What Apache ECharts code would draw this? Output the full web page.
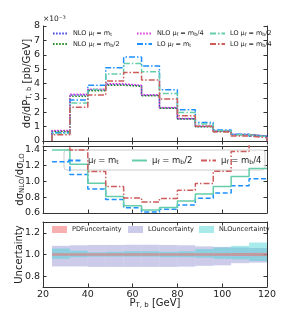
<!DOCTYPE html>
<html><head><meta charset="utf-8">
<script src="https://cdn.jsdelivr.net/npm/echarts@6/dist/echarts.min.js"></script>
<style>html,body{margin:0;padding:0;background:#fff}#c{width:282px;height:329px}</style>
</head><body><div id="c"></div>
<script>
// ---- data ----
const binEdges = [24, 32, 40, 48, 56, 64, 72, 80, 88, 96, 104, 112, 120];
const xTicks = [20, 40, 60, 80, 100, 120];
// differential cross sections, units of 1e-3 pb/GeV
const nloMt  = [0.70, 3.20, 3.55, 3.93, 3.84, 3.18, 2.30, 1.55, 1.01, 0.68, 0.45, 0.33];
const nloMt2 = [0.66, 3.12, 3.50, 3.88, 3.80, 3.15, 2.27, 1.53, 1.00, 0.67, 0.44, 0.32];
const nloMt4 = [0.73, 3.26, 3.60, 3.98, 3.88, 3.22, 2.33, 1.57, 1.03, 0.70, 0.46, 0.34];
const loMt   = [0.58, 2.85, 3.88, 5.10, 5.84, 5.22, 3.56, 2.17, 1.29, 0.77, 0.47, 0.33];
const loMt2  = [0.52, 2.65, 3.58, 4.66, 5.40, 4.82, 3.31, 1.99, 1.19, 0.72, 0.43, 0.30];
const loMt4  = [0.43, 2.34, 3.20, 4.17, 4.76, 4.25, 2.93, 1.76, 1.03, 0.63, 0.35, 0.23];
// ratios NLO/LO
const ratioMt  = [1.25, 1.09, 0.905, 0.77, 0.667, 0.613, 0.647, 0.70, 0.786, 0.855, 0.945, 1.035];
const ratioMt2 = [1.40, 1.22, 0.977, 0.81, 0.693, 0.638, 0.670, 0.752, 0.840, 0.937, 1.062, 1.165];
const ratioMt4 = [1.50, 1.40, 1.125, 0.935, 0.790, 0.740, 0.785, 0.890, 0.975, 1.130, 1.380, 1.550];
// uncertainty bands
const pdfLo = [0.988, 0.988, 0.988, 0.988, 0.988, 0.988, 0.988, 0.988, 0.988, 0.987, 0.986, 0.985];
const pdfHi = [1.012, 1.012, 1.012, 1.012, 1.012, 1.012, 1.012, 1.012, 1.012, 1.013, 1.014, 1.015];
const loBandLo = [0.890, 0.890, 0.885, 0.885, 0.885, 0.885, 0.885, 0.888, 0.895, 0.900, 0.920, 0.925];
const loBandHi = [1.080, 1.085, 1.088, 1.088, 1.090, 1.090, 1.088, 1.085, 1.075, 1.070, 1.065, 1.060];
const nloBandLo = [0.960, 0.975, 0.980, 0.980, 0.980, 0.980, 0.975, 0.975, 0.970, 0.960, 0.955, 0.940];
const nloBandHi = [1.055, 1.035, 1.020, 1.025, 1.030, 1.030, 1.025, 1.030, 1.050, 1.065, 1.080, 1.110];

// ---- helpers ----
const FONT = 'DejaVu Sans';
function histPts(v) {
  const p = [[binEdges[0], 0]];
  v.forEach((y, i) => p.push([binEdges[i], y]));
  p.push([binEdges[binEdges.length - 1], v[v.length - 1]]);
  p.push([binEdges[binEdges.length - 1], 0]);
  return p;
}
function stepPts(v) {
  const p = v.map((y, i) => [binEdges[i], y]);
  p.push([binEdges[binEdges.length - 1], v[v.length - 1]]);
  return p;
}
const DOT = [1.5, 1.6], DASHDOT = [6, 2, 1.5, 2], DASH = [5, 2.5];
function lineS(name, data, color, type, gi) {
  return { type: 'line', name, data, step: 'end', xAxisIndex: gi * 2, yAxisIndex: gi * 2,
    symbol: 'none', showSymbol: false, animation: false,
    lineStyle: { color, width: 1.5, type }, itemStyle: { color } };
}
function band(name, lo, hi, color) {
  return { type: 'custom', name, xAxisIndex: 4, yAxisIndex: 4, animation: false,
    itemStyle: { color },
    data: lo.map((l, i) => [binEdges[i], binEdges[i + 1], l, hi[i]]),
    encode: { x: [0, 1], y: [2, 3] },
    renderItem: (params, api) => {
      const a = api.coord([api.value(0), api.value(3)]);
      const b = api.coord([api.value(1), api.value(2)]);
      return { type: 'rect', shape: { x: a[0], y: a[1], width: b[0] - a[0], height: b[1] - a[1] },
        style: { fill: color } };
    } };
}
const grids = [
  { left: 43, right: 15, top: 26, height: 115 },
  { left: 43, right: 15, top: 146, height: 67 },
  { left: 43, right: 15, top: 222, height: 65 }
];
const axisLine = { show: true, lineStyle: { color: '#333', width: 1 } };
const tick = { show: true, inside: true, length: 3.5, lineStyle: { color: '#333' } };
const lblStyle = { fontFamily: FONT, fontSize: 9.5, color: '#222', margin: 3 };
const xAxes = [], yAxes = [];
const yDefs = [
  { min: 0, max: 8, interval: 1, fmt: v => String(v) },
  { min: 0.6, max: 1.45, interval: 0.2, fmt: v => (Math.abs(v - 1.45) < 1e-6 ? '' : v.toFixed(1)) },
  { min: 0.7, max: 1.3, splitNumber: 3, fmt: v => ((Math.abs(v - 0.7) < 1e-6 || Math.abs(v - 1.3) < 1e-6) ? '' : v.toFixed(1)) }
];
const rich = {
  a: { fontFamily: FONT, fontSize: 10, lineHeight: 12, color: '#222' },
  s: { fontFamily: FONT, fontSize: 7, lineHeight: 7, verticalAlign: 'bottom', color: '#222' }
};
const yNames = [
  { name: '{a|dσ/dP}{s|T, b}{a| [pb/GeV]}', gap: 10 },
  { name: '{a|dσ}{s|NLO}{a|/dσ}{s|LO}', gap: 17 },
  { name: '{a|Uncertainty}', gap: 18 }
];
for (let g = 0; g < 3; g++) {
  xAxes.push({ type: 'value', gridIndex: g, min: xTicks[0], max: xTicks[xTicks.length - 1], interval: 20,
    axisLine, axisTick: tick, splitLine: { show: false },
    axisLabel: g === 2 ? Object.assign({ show: true }, lblStyle) : { show: false },
    name: g === 2 ? '{a|P}{s|T, b}{a| [GeV]}' : '', nameLocation: 'middle', nameGap: 10,
    nameMoveOverlap: false, nameTextStyle: { rich, verticalAlign: 'top' } });
  xAxes.push({ type: 'value', gridIndex: g, position: 'top', min: 20, max: 120, interval: 20,
    axisLine, axisTick: tick, splitLine: { show: false }, axisLabel: { show: false } });
  const d = yDefs[g];
  const base = { type: 'value', gridIndex: g, min: d.min, max: d.max, axisLine, axisTick: tick,
    splitLine: { show: false } };
  if (d.interval) base.interval = d.interval; else base.splitNumber = d.splitNumber;
  yAxes.push(Object.assign({}, base, { position: 'left',
    axisLabel: Object.assign({ show: true, formatter: d.fmt }, lblStyle),
    name: yNames[g].name, nameLocation: 'middle', nameRotate: 90, nameGap: yNames[g].gap,
    nameMoveOverlap: false, nameTextStyle: { rich } }));
  yAxes.push(Object.assign({}, base, { position: 'right', axisLabel: { show: false } }));
}

const C = { nb: '#3b3bea', ng: '#1e8a1e', nm: '#d63ad6', lb: '#1e90ff', lg: '#66cdaa', lr: '#cd5c5c' };
const series = [
  lineS('NLO mt', histPts(nloMt), C.nb, DOT, 0),
  lineS('NLO mt/2', histPts(nloMt2), C.ng, DOT, 0),
  lineS('NLO mt/4', histPts(nloMt4), C.nm, DOT, 0),
  lineS('LO mt', histPts(loMt), C.lb, DASHDOT, 0),
  lineS('LO mt/2', histPts(loMt2), C.lg, DASHDOT, 0),
  lineS('LO mt/4', histPts(loMt4), C.lr, DASHDOT, 0),
  lineS('R mt', stepPts(ratioMt), C.lb, DASH, 1),
  lineS('R mt/2', stepPts(ratioMt2), C.lg, 'solid', 1),
  lineS('R mt/4', stepPts(ratioMt4), C.lr, DASHDOT, 1),
  band('LO uncertainty', loBandLo, loBandHi, 'rgba(120,120,200,0.38)'),
  band('NLO uncertainty', nloBandLo, nloBandHi, 'rgba(64,210,210,0.45)'),
  band('PDF uncertainty', pdfLo, pdfHi, 'rgba(240,110,110,0.55)')
];
const labelMap = {
  'NLO mt': '{a|NLO μ}{s|f}{a| = m}{s|t}',
  'NLO mt/2': '{a|NLO μ}{s|f}{a| = m}{s|b}{a|/2}',
  'NLO mt/4': '{a|NLO μ}{s|f}{a| = m}{s|b}{a|/4}',
  'LO mt': '{a|LO μ}{s|f}{a| = m}{s|t}',
  'LO mt/2': '{a|LO μ}{s|f}{a| = m}{s|b}{a|/2}',
  'LO mt/4': '{a|LO μ}{s|f}{a| = m}{s|b}{a|/4}',
  'R mt': '{b|μ}{t|f}{b| = m}{t|t}',
  'R mt/2': '{b|μ}{t|f}{b| = m}{t|b}{b|/2}',
  'R mt/4': '{b|μ}{t|f}{b| = m}{t|b}{b|/4}',
  'PDF uncertainty': '{a|PDFuncertainty}',
  'LO uncertainty': '{a|LOuncertainty}',
  'NLO uncertainty': '{a|NLOuncertainty}'
};
const lrich = {
  a: { fontFamily: FONT, fontSize: 6.5, lineHeight: 8, color: '#222' },
  s: { fontFamily: FONT, fontSize: 4.8, lineHeight: 5, verticalAlign: 'bottom', color: '#222' },
  b: { fontFamily: FONT, fontSize: 8.5, lineHeight: 10, color: '#222' },
  t: { fontFamily: FONT, fontSize: 6, lineHeight: 6, verticalAlign: 'bottom', color: '#222' }
};
const noSym = { itemStyle: { color: 'rgba(0,0,0,0)', borderColor: 'rgba(0,0,0,0)', borderWidth: 0, opacity: 0 } };
function leg(names, left, top, orient, extra) {
  return Object.assign({ data: names, left, top, orient, itemGap: 3, itemWidth: 15, itemHeight: 7,
    padding: 0, selectedMode: false, formatter: n => labelMap[n], textStyle: { rich: lrich }, z: 5 }, extra || {});
}
const legends = [
  leg(['NLO mt', 'NLO mt/2'], 52, 30, 'vertical', noSym),
  leg(['NLO mt/4', 'LO mt'], 136, 30, 'vertical', noSym),
  leg(['LO mt/2', 'LO mt/4'], 209, 30, 'vertical', noSym),
  leg(['R mt'], 67, 156, 'horizontal', noSym),
  leg(['R mt/2'], 131, 156, 'horizontal', noSym),
  leg(['R mt/4'], 200, 156, 'horizontal', noSym),
  leg([{ name: 'PDF uncertainty', icon: 'rect' }], 52, 226, 'horizontal'),
  leg([{ name: 'LO uncertainty', icon: 'rect' }], 128, 226, 'horizontal'),
  leg([{ name: 'NLO uncertainty', icon: 'rect' }], 199, 226, 'horizontal')
];
const chart = echarts.init(document.getElementById('c'), null, { renderer: 'canvas' });
chart.setOption({
  animation: false,
  grid: grids,
  xAxis: xAxes,
  yAxis: yAxes,
  legend: legends,
  series,
  graphic: [
    { type: 'text', left: 43, top: 15, style: { text: '×10⁻³', fontFamily: FONT, fontSize: 7.5, fill: '#222' } },
    { type: 'rect', z: 3, shape: { x: 64, y: 150, width: 201, height: 20, r: 3 },
      style: { fill: 'rgba(255,255,255,0.8)', stroke: '#cccccc', lineWidth: 1 } }
  ]
});
</script></body></html>
